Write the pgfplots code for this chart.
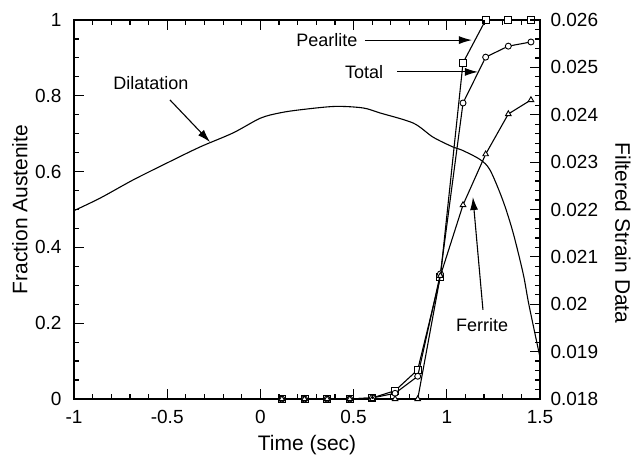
\documentclass[border=0pt]{standalone}
\usepackage{fontspec}
\setmainfont{Liberation Sans}
\usepackage{pgfplots}
\pgfplotsset{compat=1.18}
\usetikzlibrary{arrows.meta}

% Transformed fractions at the sampled times
\pgfplotstableread{
t       pearlite total  ferrite
0.115   0        0      0
0.2365  0        0      0
0.358   0        0      0
0.4795  0        0      0
0.601   0.003    0.003  0
0.7225  0.022    0.015  0
0.844   0.077    0.060  0
0.9655  0.322    0.330  0.325
1.087   0.887    0.781  0.512
1.2085  1.000    0.902  0.646
1.33    1.000    0.931  0.752
1.4515  1.000    0.942  0.789
}\fractions

% Filtered dilatometer strain
\pgfplotstableread{
t       strain
-1.0    0.021976
-0.86   0.02224
-0.683  0.022624
-0.5    0.022984
-0.324  0.02332
-0.147  0.023616
0.0     0.023928
0.105   0.02404
0.212   0.024104
0.4     0.024176
0.55    0.024144
0.64    0.02404
0.82    0.023824
0.926   0.023528
1.033   0.02332
1.08    0.023256
1.178   0.023056
1.232   0.022832
1.30    0.0222
1.355   0.02152
1.41    0.02064
1.44    0.02
1.5     0.01888
}\strain

\pgfplotsset{
  frame/.style={
    scale only axis, width=466pt, height=379pt,
    xmin=-1, xmax=1.5,
    axis line style={line width=1.2pt},
    /pgf/number format/assume math mode=true,
    tick label style={font=\fontsize{19}{19}\selectfont},
    label style={font=\fontsize{21}{21}\selectfont},
    clip mode=individual,
    tick align=inside,
    major tick length=10pt, minor tick length=5pt,
    major tick style={draw=black, line width=1.2pt},
    minor tick style={draw=black, line width=1.2pt},
  },
}

\begin{document}
\begin{tikzpicture}
\begin{axis}[frame,
  at={(0,0)}, anchor=south west,
  ymin=0, ymax=1,
  xtick={-1,-0.5,0,0.5,1,1.5}, minor x tick num=4,
  ytick={0,0.2,0.4,0.6,0.8,1}, minor y tick num=3,
  ytick pos=left, xtick pos=both,
  yticklabel style={xshift=-9pt},
  xticklabel style={yshift=-8pt},
  xlabel={Time (sec)}, ylabel={Fraction Austenite},
  xlabel style={at={(axis description cs:0.5,-0.1214)}, anchor=center},
  ylabel style={at={(axis description cs:-0.1159,0.5)}, anchor=center},
]
\addplot[black, line width=1.1pt, mark=square*, mark size=3.5pt,
  mark options={fill=white, line width=0.9pt}] table[x=t, y=pearlite] {\fractions};
\addplot[black, line width=1.1pt, mark=*, mark size=3pt,
  mark options={fill=white, line width=0.9pt}] table[x=t, y=total] {\fractions};
\addplot[black, line width=1.1pt, mark=triangle*, mark size=3.2pt,
  mark options={fill=white, line width=0.9pt}] table[x=t, y=ferrite] {\fractions};

\begin{scope}[font=\fontsize{18}{18}\selectfont]
\node at (axis cs:-0.587,0.834) {Dilatation};
\draw[line width=1.1pt, -{Latex[length=13pt,width=8pt]}] (axis cs:-0.485,0.789) -- (axis cs:-0.27,0.678);
\node at (axis cs:0.357,0.947) {Pearlite};
\draw[line width=1.1pt, -{Latex[length=13pt,width=8pt]}] (axis cs:0.561,0.947) -- (axis cs:1.135,0.947);
\node at (axis cs:0.556,0.863) {Total};
\draw[line width=1.1pt, -{Latex[length=13pt,width=8pt]}] (axis cs:0.733,0.863) -- (axis cs:1.167,0.863);
\node at (axis cs:1.189,0.195) {Ferrite};
\draw[line width=1.1pt, -{Latex[length=13pt,width=8pt]}] (axis cs:1.194,0.235) -- (axis cs:1.14,0.533);
\end{scope}
\end{axis}

\begin{axis}[frame,
  at={(0,0)}, anchor=south west,
  ymin=0.018, ymax=0.026,
  axis y line*=right, axis x line=none,
  ytick={0.018,0.019,0.02,0.021,0.022,0.023,0.024,0.025,0.026},
  minor y tick num=4,
  scaled y ticks=false,
  yticklabel style={/pgf/number format/fixed, /pgf/number format/precision=3, xshift=7pt},
  ylabel={Filtered Strain Data},
  ylabel style={at={(axis description cs:1.178,0.438)}, anchor=center, rotate=180},
]
\addplot[black, line width=1.1pt, smooth, tension=0.5] table[x=t, y=strain] {\strain};
\end{axis}

% inward tick marks along the frame (0.1 s, 0.05 and 0.0002 steps)
\begin{scope}[line width=1.2pt, black]
\foreach \i in {0,...,25}{
  \pgfmathsetmacro\L{mod(\i,5)==0 ? 10 : 5}
  \draw ({466pt*\i/25},0) -- ++(0,\L pt);
  \draw ({466pt*\i/25},379pt) -- ++(0,-\L pt);
}
\foreach \j in {0,...,20}{
  \pgfmathsetmacro\L{mod(\j,4)==0 ? 10 : 5}
  \draw (0,{379pt*\j/20}) -- ++(\L pt,0);
}
\foreach \k in {0,...,40}{
  \pgfmathsetmacro\L{mod(\k,5)==0 ? 10 : 5}
  \draw (466pt,{379pt*\k/40}) -- ++(-\L pt,0);
}
\end{scope}
% page frame
\path (-74pt,-67pt) rectangle (564pt,399pt);
\end{tikzpicture}
\end{document}
